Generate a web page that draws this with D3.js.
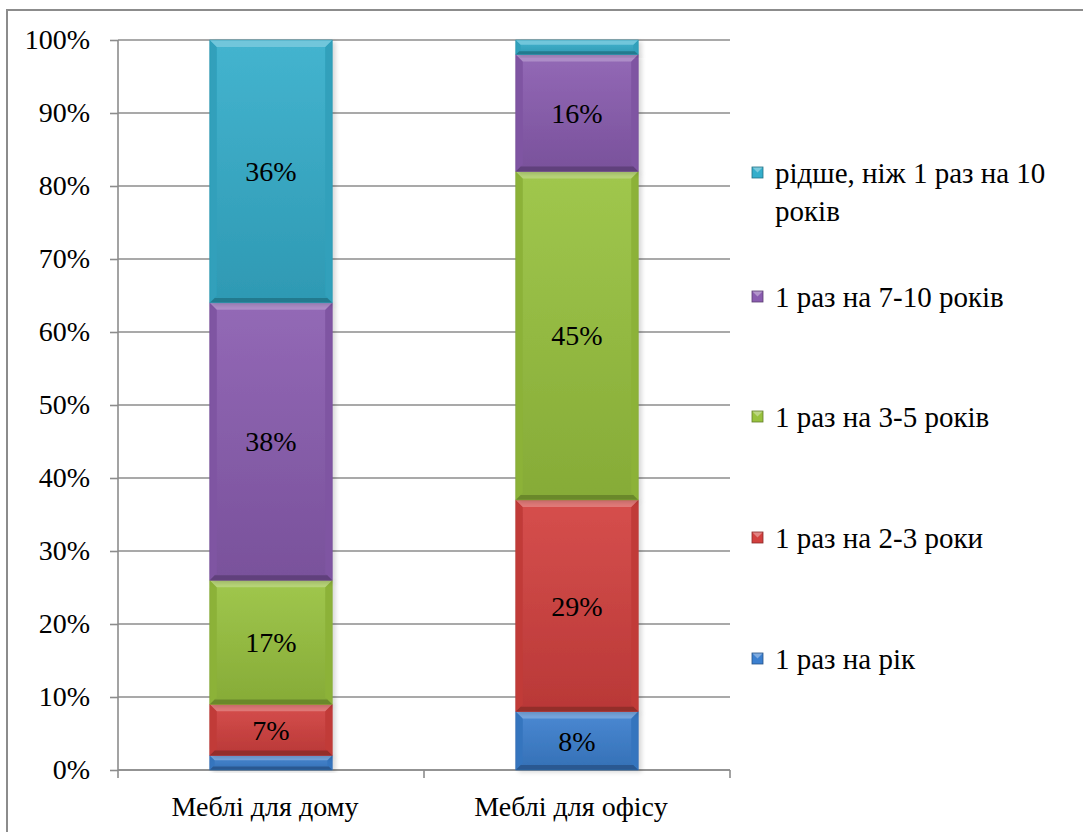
<!DOCTYPE html>
<html>
<head>
<meta charset="utf-8">
<script src="https://cdn.jsdelivr.net/npm/d3@7"></script>
<style>
  html, body { margin: 0; padding: 0; background: #fff; }
</style>
</head>
<body>
<svg id="chart" width="1083" height="832"></svg>
<script>
// Categories and series (shares of respondents, %)
const categories = ["Меблі для дому", "Меблі для офісу"];
const seriesNames = [
  "1 раз на рік",
  "1 раз на 2-3 роки",
  "1 раз на 3-5 років",
  "1 раз на 7-10 років",
  "рідше, ніж 1 раз на 10 років"
];
const legendLines = [
  ["1 раз на рік"],
  ["1 раз на 2-3 роки"],
  ["1 раз на 3-5 років"],
  ["1 раз на 7-10 років"],
  ["рідше, ніж 1 раз на 10", "років"]
];
const onceAYear   = [2, 8];
const every2to3   = [7, 29];
const every3to5   = [17, 45];
const every7to10  = [38, 16];
const rarer       = [36, 2];
const seriesColors = ["#3b7fcf", "#d2403e", "#98c23e", "#8a5cb0", "#34aecb"];
const yTicks = [0, 10, 20, 30, 40, 50, 60, 70, 80, 90, 100];

const seriesValues = [onceAYear, every2to3, every3to5, every7to10, rarer];
const FONT = "Liberation Serif, Times New Roman, serif";

const svg = d3.select("#chart");

// outer frame
svg.append("rect").attr("x", 7).attr("y", 10).attr("width", 1090).attr("height", 840)
  .attr("fill", "none").attr("stroke", "#8c8c8c").attr("stroke-width", 2);

const plot = { left: 118, right: 730, top: 40, bottom: 770 };
const y = d3.scaleLinear().domain([0, 100]).range([plot.bottom, plot.top]);
const x = d3.scaleBand().domain(categories).range([plot.left, plot.right]).padding(0);
const barW = x.bandwidth() * 0.4;

const defs = svg.append("defs");
const f = defs.append("filter").attr("id", "shadow").attr("x", "-10%").attr("y", "-10%")
  .attr("width", "130%").attr("height", "130%");
f.append("feDropShadow").attr("dx", 3).attr("dy", 2).attr("stdDeviation", 2)
  .attr("flood-color", "#000").attr("flood-opacity", 0.15);

// vertical shading per series colour
seriesColors.forEach((c, k) => {
  const lg = defs.append("linearGradient").attr("id", "grad" + k)
    .attr("x1", 0).attr("y1", 0).attr("x2", 0).attr("y2", 1);
  lg.append("stop").attr("offset", "0%").attr("stop-color", d3.interpolateRgb(c, "#fff")(0.08));
  lg.append("stop").attr("offset", "100%").attr("stop-color", d3.interpolateRgb(c, "#000")(0.12));
});

// gridlines
svg.append("g").selectAll("line").data(yTicks).join("line")
  .attr("x1", plot.left).attr("x2", plot.right)
  .attr("y1", d => y(d)).attr("y2", d => y(d))
  .attr("stroke", "#8c8c8c").attr("stroke-width", 1.6);

// y axis
const yAxis = svg.append("g").attr("transform", `translate(${plot.left},0)`)
  .call(d3.axisLeft(y).tickValues(yTicks).tickFormat(d => d + "%").tickSize(8).tickPadding(20));
yAxis.attr("font-family", null).attr("font-size", null);
yAxis.select(".domain").attr("stroke", "#8c8c8c").attr("stroke-width", 1.6).attr("d", `M0,${plot.top}V${plot.bottom}`);
yAxis.selectAll(".tick line").attr("stroke", "#8c8c8c").attr("stroke-width", 1.6);
yAxis.selectAll(".tick text").attr("font-family", FONT).attr("font-size", 28).attr("fill", "#000");

// x axis: baseline plus tick marks at category boundaries
const xAxisG = svg.append("g");
xAxisG.append("line").attr("x1", plot.left).attr("x2", plot.right)
  .attr("y1", plot.bottom).attr("y2", plot.bottom)
  .attr("stroke", "#8c8c8c").attr("stroke-width", 1.6);
const bounds = categories.map(c => x(c)).concat([x(categories[categories.length - 1]) + x.bandwidth()]);
xAxisG.selectAll("line.tk").data(bounds).join("line").attr("class", "tk")
  .attr("x1", d => d).attr("x2", d => d).attr("y1", plot.bottom).attr("y2", plot.bottom + 8)
  .attr("stroke", "#8c8c8c").attr("stroke-width", 1.6);
xAxisG.selectAll("text").data(categories).join("text")
  .attr("x", d => x(d) + x.bandwidth() / 2 - 6).attr("y", 816)
  .attr("text-anchor", "middle").attr("font-family", FONT).attr("font-size", 28).text(d => d);

// stacked bars
const rows = categories.map((c, i) => {
  const r = { cat: c };
  seriesNames.forEach((s, k) => { r[s] = seriesValues[k][i]; });
  return r;
});
const stacked = d3.stack().keys(seriesNames)(rows);

const segG = svg.append("g");
const labelG = svg.append("g");
stacked.forEach((layer, k) => {
  const base = d3.color(seriesColors[k]);
  layer.forEach((seg) => {
    const cat = seg.data.cat;
    const x0 = x(cat) + (x.bandwidth() - barW) / 2, x1 = x0 + barW;
    const y0 = y(seg[1]), y1 = y(seg[0]);
    const h = y1 - y0;
    const b = Math.min(7, h / 3);
    const g = segG.append("g").attr("filter", "url(#shadow)");
    g.append("rect").attr("x", x0).attr("y", y0).attr("width", barW).attr("height", h)
      .attr("fill", `url(#grad${k})`);
    // bevelled edges
    const light = d3.interpolateRgb(base, "#ffffff")(0.3);
    const dark = d3.interpolateRgb(base, "#000000")(0.3);
    const side = d3.interpolateRgb(base, "#000000")(0.08);
    const poly = (pts, fill) => g.append("polygon")
      .attr("points", pts.map(p => p.join(",")).join(" ")).attr("fill", fill);
    poly([[x0, y0], [x0 + b, y0 + b], [x0 + b, y1 - b], [x0, y1]], side);
    poly([[x1, y0], [x1 - b, y0 + b], [x1 - b, y1 - b], [x1, y1]], side);
    poly([[x0, y0], [x1, y0], [x1 - b, y0 + b], [x0 + b, y0 + b]], light);
    poly([[x0, y1], [x1, y1], [x1 - b * 0.7, y1 - b * 0.7], [x0 + b * 0.7, y1 - b * 0.7]], dark);
    g.append("rect").attr("x", x0).attr("y", y0).attr("width", barW).attr("height", h)
      .attr("fill", "none").attr("stroke", d3.interpolateRgb(base, "#000")(0.15)).attr("stroke-width", 0.6);
    const v = seg[1] - seg[0];
    if (v >= 5) {
      labelG.append("text").attr("x", (x0 + x1) / 2).attr("y", (y0 + y1) / 2)
        .attr("dy", "0.35em").attr("text-anchor", "middle")
        .attr("font-family", FONT).attr("font-size", 28).text(v + "%");
    }
  });
});

// legend (top to bottom: last series first)
const legendY = [173, 297, 417, 538, 659];
const lg = svg.append("g");
seriesNames.slice().reverse().forEach((s, i) => {
  const k = seriesNames.length - 1 - i;
  const cy = legendY[i];
  const base = d3.color(seriesColors[k]);
  const mx = 752, my = cy - 6, ms = 11;
  lg.append("rect").attr("x", mx).attr("y", my).attr("width", ms).attr("height", ms)
    .attr("fill", base.formatHex());
  lg.append("polygon")
    .attr("points", `${mx},${my} ${mx + ms},${my} ${mx + ms / 2},${my + ms / 2}`)
    .attr("fill", d3.interpolateRgb(base, "#ffffff")(0.35));
  lg.append("rect").attr("x", mx).attr("y", my).attr("width", ms).attr("height", ms)
    .attr("fill", "none").attr("stroke", d3.interpolateRgb(base, "#000")(0.35)).attr("stroke-width", 0.8);
  const t = lg.append("text").attr("x", 775).attr("y", cy)
    .attr("font-family", FONT).attr("font-size", 29);
  legendLines[k].forEach((ln, j) => {
    t.append("tspan").attr("x", 775).attr("dy", j === 0 ? "0.35em" : "1.3em").text(ln);
  });
});
</script>
</body>
</html>
